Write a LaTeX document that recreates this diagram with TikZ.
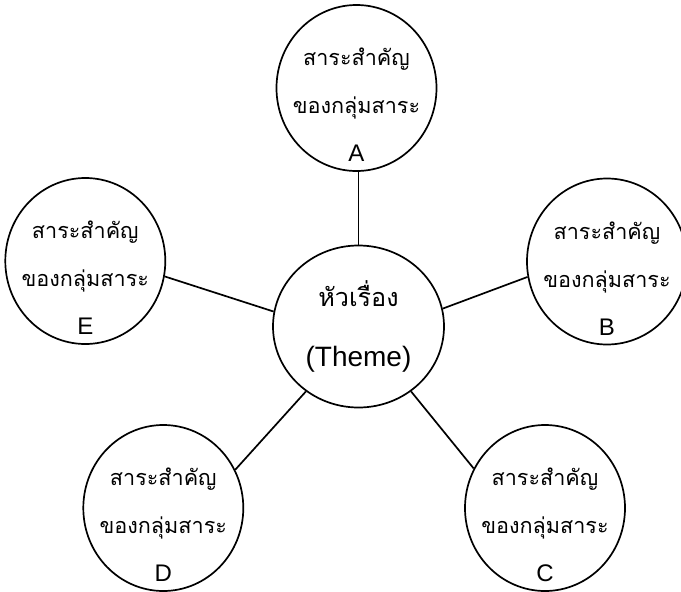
\documentclass[tikz,border=0pt]{standalone}
\usepackage{fontspec}
\usetikzlibrary{shapes.geometric}
\setmainfont{Liberation Sans}
\newfontfamily\thai[Script=Thai,Scale=0.9]{Loma}
\begin{document}
\begin{tikzpicture}[x=1pt,y=-1pt,
  topic/.style={draw,ellipse,line width=1.7pt,inner sep=0pt,minimum width=160pt,minimum height=166pt},
  topictext/.style={align=center,font=\fontsize{24}{48}\selectfont},
  link/.style={line width=1.7pt}]
  \useasboundingbox (0,0) rectangle (681,592);
  \node[draw,ellipse,line width=1.7pt,inner sep=0pt,minimum width=171pt,minimum height=162pt,
        align=center,font=\fontsize{28}{60}\selectfont] (theme) at (358.5,326.5) {{\thai หัวเรื่อง}\\(Theme)};
  \node[topic,label={[topictext,yshift=-17pt]center:{\thai สาระสำคัญ}\\{\thai ของกลุ่มสาระ}\\A}] (A) at (356.5,88) {};
  \node[topic,label={[topictext,yshift=-17pt]center:{\thai สาระสำคัญ}\\{\thai ของกลุ่มสาระ}\\B}] (B) at (607,261.5) {};
  \node[topic,label={[topictext,yshift=-17pt]center:{\thai สาระสำคัญ}\\{\thai ของกลุ่มสาระ}\\C}] (C) at (545,508) {};
  \node[topic,label={[topictext,yshift=-17pt]center:{\thai สาระสำคัญ}\\{\thai ของกลุ่มสาระ}\\D}] (D) at (163.3,508) {};
  \node[topic,label={[topictext,yshift=-17pt]center:{\thai สาระสำคัญ}\\{\thai ของกลุ่มสาระ}\\E}] (E) at (85.3,261) {};
  \draw[link] (theme.north) -- (theme.north |- A.south);
  \draw[link] (theme.12) -- (B.-169);
  \draw[link] (theme.-51.3) -- (C.151.2);
  \draw[link] (theme.-129.6) -- (D.28.5);
  \draw[link] (theme.170.1) -- (E.-11.1);
\end{tikzpicture}
\end{document}
